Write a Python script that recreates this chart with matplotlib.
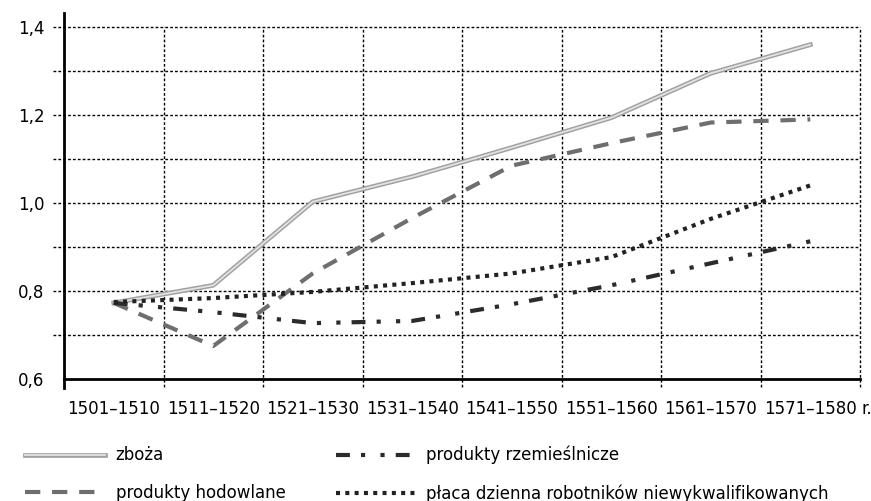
import matplotlib
matplotlib.use('Agg')
import matplotlib.pyplot as plt
import matplotlib.patheffects as pe

periods = ['1501–1510', '1511–1520', '1521–1530', '1531–1540',
           '1541–1550', '1551–1560', '1561–1570', '1571–1580']
zboza = [0.773, 0.813, 1.003, 1.06, 1.126, 1.194, 1.295, 1.36]
hodowlane = [0.773, 0.675, 0.84, 0.966, 1.085, 1.136, 1.183, 1.19]
rzemieslnicze = [0.773, 0.752, 0.727, 0.732, 0.77, 0.813, 0.863, 0.913]
placa = [0.775, 0.784, 0.798, 0.818, 0.84, 0.877, 0.964, 1.04]
y_ticks = [0.6, 0.8, 1.0, 1.2, 1.4]
y_grid = [0.7, 0.8, 0.9, 1.0, 1.1, 1.2, 1.3, 1.4]

plt.rcParams['lines.scale_dashes'] = False
plt.rcParams['font.family'] = 'DejaVu Sans'

fig = plt.figure(figsize=(8.71, 5.01), dpi=100)
ax = fig.add_axes([64 / 871, 1 - 379 / 501, 796 / 871, 366 / 501])

x = [i + 0.5 for i in range(len(periods))]

# grid (dotted, sticking out a bit past the axes like the ticks)
for g in y_grid:
    ax.axhline(g, xmin=-0.014, xmax=1, color='black', lw=1.0,
               linestyle=(0, (2, 1.5)), clip_on=False, zorder=1)
for i in range(1, len(periods) + 1):
    ax.axvline(i, ymin=-0.022, ymax=(1.4 - 0.6) / (1.432 - 0.6), color='black', lw=1.0,
               linestyle=(0, (2, 1.5)), clip_on=False, zorder=1)

ax.plot(x, zboza, color='#e2e2e2', lw=1.3, label='zboża', zorder=3,
        path_effects=[pe.Stroke(linewidth=3.4, foreground='#a0a0a0'), pe.Normal()])
ax.plot(x, hodowlane, color='#6e6e6e', lw=3, dashes=(11, 8.5),
        label='produkty hodowlane', zorder=3)
ax.plot(x, rzemieslnicze, color='#2b2b2b', lw=3, dashes=(10, 8, 3, 11, 3, 8),
        label='produkty rzemieślnicze', zorder=3)
ax.plot(x, placa, color='#222222', lw=3, dashes=(2.9, 3.8),
        label='płaca dzienna robotników niewykwalifikowanych', zorder=3)

ax.set_xlim(0, 8)
ax.set_ylim(0.6, 1.432)
ax.set_xticks(x)
ax.set_xticklabels(periods)
ax.set_yticks(y_ticks)
ax.set_yticklabels([('%.1f' % v).replace('.', ',') for v in y_ticks])
ax.tick_params(axis='both', length=0, labelsize=12)
ax.tick_params(axis='y', pad=14)
ax.tick_params(axis='x', pad=15)
ax.annotate('r.', xy=(8, 0), xycoords=('data', 'axes fraction'),
            xytext=(1, -15), textcoords='offset points', ha='left', va='top',
            fontsize=12)

for s in ['top', 'right']:
    ax.spines[s].set_visible(False)
for s in ['left', 'bottom']:
    ax.spines[s].set_linewidth(2)
    ax.spines[s].set_zorder(4)
ax.spines['left'].set_bounds(0.58, 1.432)

fig.legend(loc='upper left', bbox_to_anchor=(25 / 871, 1 - 446 / 501), ncol=2,
           frameon=False, fontsize=12, handlelength=4.8, handletextpad=0.64,
           columnspacing=3.0, labelspacing=1.18, borderpad=0, borderaxespad=0)

fig.savefig('out.png', dpi=100)
